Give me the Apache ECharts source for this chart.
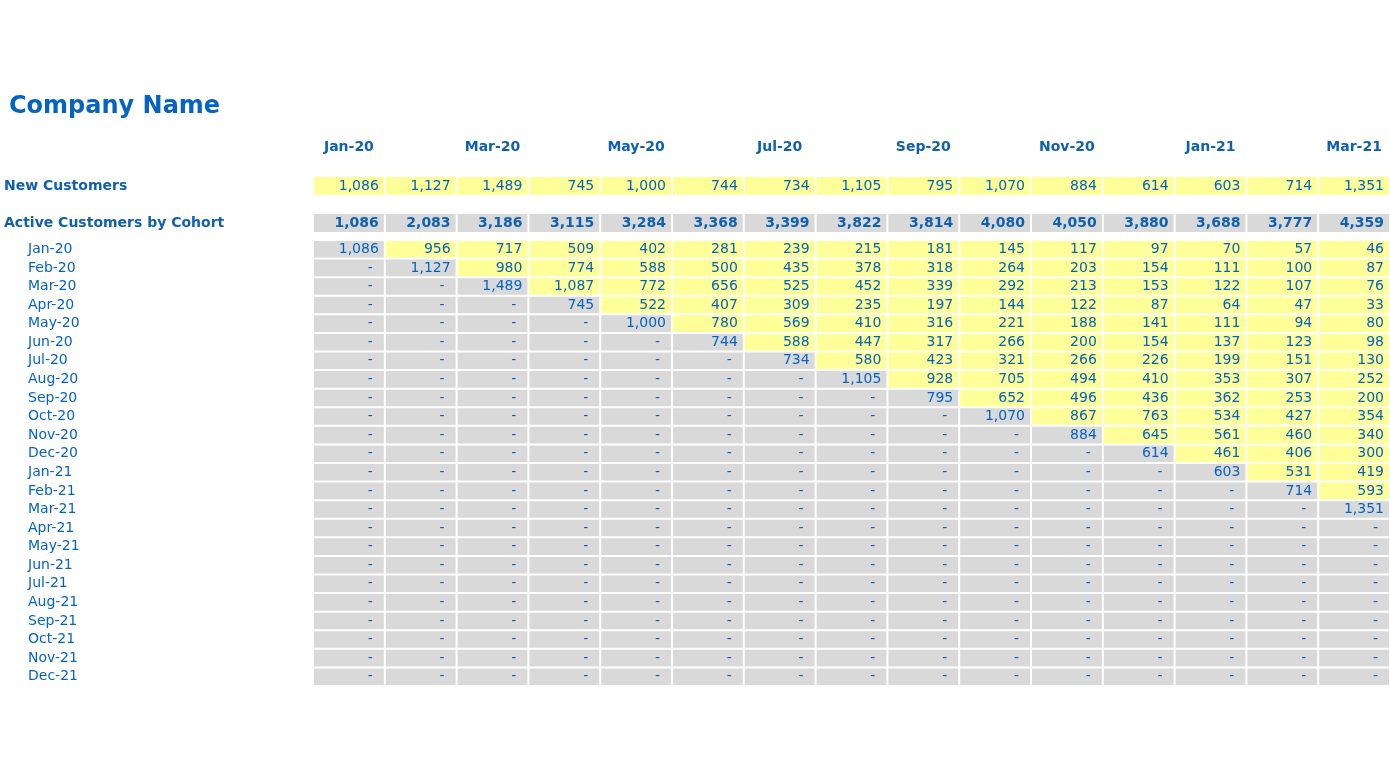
<!DOCTYPE html>
<html>
<head>
<meta charset="utf-8">
<script src="https://cdn.jsdelivr.net/npm/echarts@6/dist/echarts.min.js"></script>
<style>html,body{margin:0;padding:0;background:#fff}#chart{width:1390px;height:783px}</style>
</head>
<body>
<div id="chart"></div>
<script>
var months = ['Jan-20','Feb-20','Mar-20','Apr-20','May-20','Jun-20','Jul-20','Aug-20','Sep-20','Oct-20','Nov-20','Dec-20','Jan-21','Feb-21','Mar-21'];
var cohorts = ['Jan-20','Feb-20','Mar-20','Apr-20','May-20','Jun-20','Jul-20','Aug-20','Sep-20','Oct-20','Nov-20','Dec-20',
  'Jan-21','Feb-21','Mar-21','Apr-21','May-21','Jun-21','Jul-21','Aug-21','Sep-21','Oct-21','Nov-21','Dec-21'];
var newCustomers = [1086,1127,1489,745,1000,744,734,1105,795,1070,884,614,603,714,1351];
var activeTotal = [1086,2083,3186,3115,3284,3368,3399,3822,3814,4080,4050,3880,3688,3777,4359];
var cohortRows = [
  [1086,956,717,509,402,281,239,215,181,145,117,97,70,57,46],
  [null,1127,980,774,588,500,435,378,318,264,203,154,111,100,87],
  [null,null,1489,1087,772,656,525,452,339,292,213,153,122,107,76],
  [null,null,null,745,522,407,309,235,197,144,122,87,64,47,33],
  [null,null,null,null,1000,780,569,410,316,221,188,141,111,94,80],
  [null,null,null,null,null,744,588,447,317,266,200,154,137,123,98],
  [null,null,null,null,null,null,734,580,423,321,266,226,199,151,130],
  [null,null,null,null,null,null,null,1105,928,705,494,410,353,307,252],
  [null,null,null,null,null,null,null,null,795,652,496,436,362,253,200],
  [null,null,null,null,null,null,null,null,null,1070,867,763,534,427,354],
  [null,null,null,null,null,null,null,null,null,null,884,645,561,460,340],
  [null,null,null,null,null,null,null,null,null,null,null,614,461,406,300],
  [null,null,null,null,null,null,null,null,null,null,null,null,603,531,419],
  [null,null,null,null,null,null,null,null,null,null,null,null,null,714,593],
  [null,null,null,null,null,null,null,null,null,null,null,null,null,null,1351]
];

var BLUE = '#0563C1', DARK = '#1060B0', YELLOW = '#FFFF99', GRAY = '#D9D9D9';
var FONT = 'DejaVu Sans';

function fmt(v) { return v == null ? '-' : v.toLocaleString('en-US'); }

// [col, row, value, fillColour, bold]
var newData = newCustomers.map(function (v, j) { return [j, 0, v, YELLOW, 0]; });
var totalData = activeTotal.map(function (v, j) { return [j, 0, v, GRAY, 1]; });
var cohortData = [];
cohorts.forEach(function (c, i) {
  months.forEach(function (m, j) {
    var row = cohortRows[i];
    var v = row ? row[j] : null;
    cohortData.push([j, i, v, (row && j > i) ? YELLOW : GRAY, 0]);
  });
});

function renderCell(params, api) {
  var p = api.coord([api.value(0), api.value(1)]);
  var s = api.size([1, 1]);
  var v = api.value(2);
  var isNull = isNaN(v) || v === '' || v == null;
  var x0 = p[0] - s[0] / 2, y0 = p[1] - s[1] / 2;
  return {
    type: 'group',
    children: [
      { type: 'rect', shape: { x: x0 + 1, y: y0 + 1, width: s[0] - 2, height: s[1] - 2 },
        style: { fill: cohortDataColour(params) } },
      { type: 'text', style: {
          x: x0 + s[0] - (isNull ? 12 : 6), y: p[1], text: isNull ? '-' : fmt(+v),
          textAlign: 'right', textVerticalAlign: 'middle',
          fill: api.value(4) ? DARK : BLUE,
          font: (api.value(4) ? 'bold ' : '') + '14px "' + FONT + '"' } }
    ]
  };
}
var seriesData = [newData, totalData, cohortData];
function cohortDataColour(params) { return seriesData[params.seriesIndex][params.dataIndex][3]; }

function yAx(idx, names, bold, margin) {
  return { type: 'category', gridIndex: idx, data: names, inverse: true,
    axisLine: { show: false }, axisTick: { show: false },
    axisLabel: { align: 'left', margin: margin, color: bold ? DARK : BLUE,
      fontFamily: FONT, fontSize: bold ? 14 : 14, fontWeight: bold ? 'bold' : 'normal' } };
}
function xAx(idx, show) {
  return { type: 'category', gridIndex: idx, data: months, position: 'top',
    axisLine: { show: false }, axisTick: { show: false },
    axisLabel: { show: show, margin: 22, color: DARK, fontFamily: FONT, fontSize: 14, fontWeight: 'bold' } };
}

var chart = echarts.init(document.getElementById('chart'));
chart.setOption({
  animation: false,
  title: { text: 'Company Name', left: 4, top: 90,
    textStyle: { color: BLUE, fontFamily: FONT, fontSize: 24, fontWeight: 'bold' } },
  grid: [
    { left: 313, right: 0, top: 176, height: 20 },
    { left: 313, right: 0, top: 213, height: 20 },
    { left: 313, right: 0, top: 240, height: 446 }
  ],
  xAxis: [xAx(0, true), xAx(1, false), xAx(2, false)],
  yAxis: [yAx(0, ['New Customers'], true, 309), yAx(1, ['Active Customers by Cohort'], true, 309), yAx(2, cohorts, false, 285)],
  series: seriesData.map(function (d, k) {
    return { type: 'custom', xAxisIndex: k, yAxisIndex: k, renderItem: renderCell,
      encode: { x: 0, y: 1 }, data: d.map(function (r) { return [r[0], r[1], r[2] == null ? '' : r[2], 0, r[4]]; }) };
  })
});
</script>
</body>
</html>
